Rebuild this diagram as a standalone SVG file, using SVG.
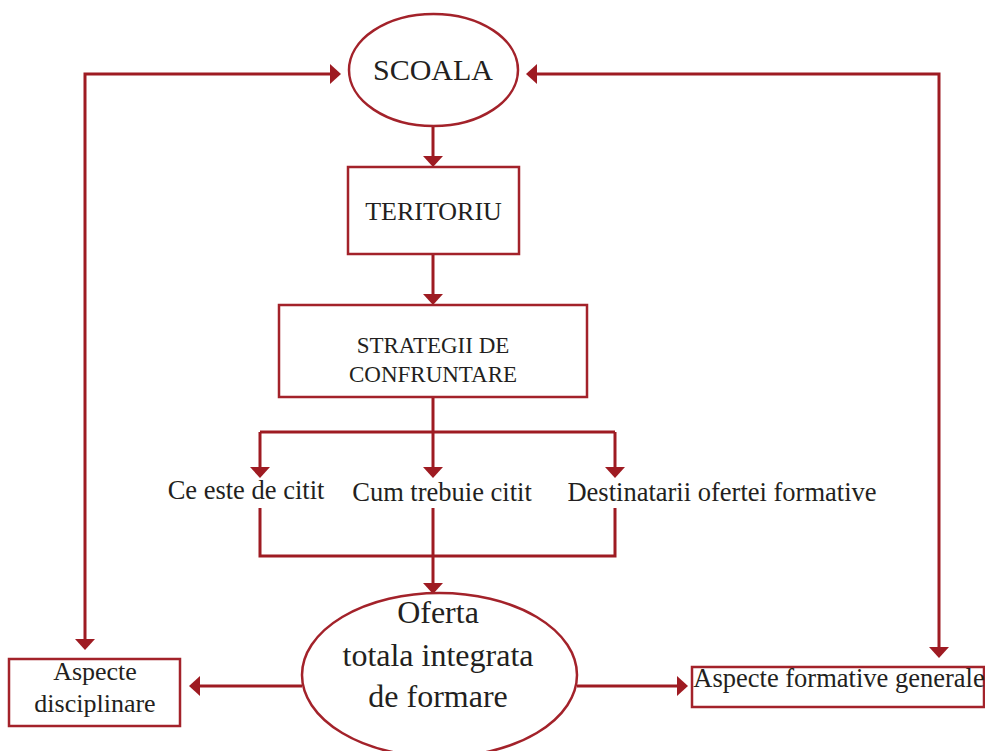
<svg xmlns="http://www.w3.org/2000/svg" width="985" height="751" viewBox="0 0 985 751">
<style>
.node{fill:#fff;stroke:#a3222a;stroke-width:2.5}
.t{font-family:"Liberation Serif","Times New Roman",serif;fill:#231f20;text-anchor:middle}
.c{fill:none;stroke:#9e1b22;stroke-width:3}
.ca{fill:none;stroke:#9e1b22;stroke-width:3;marker-end:url(#ah)}
.cb{fill:none;stroke:#9e1b22;stroke-width:3;marker-end:url(#ah);marker-start:url(#ah)}
</style>
<defs>
<marker id="ah" markerUnits="userSpaceOnUse" markerWidth="12" markerHeight="20" refX="0" refY="10" orient="auto-start-reverse" viewBox="0 0 12 20">
<path d="M0,0 L11,10 L0,20 z" fill="#9e1b22"/>
</marker>
</defs>
<g id="connectors">
<path class="cb" d="M85,639 V74 H330"/>
<path class="cb" d="M939,647 V74 H537"/>
<path class="ca" d="M433,126 V156"/>
<path class="ca" d="M433,254 V294"/>
<path class="c" d="M433,397 V432"/>
<path class="c" d="M260,432 H615"/>
<path class="ca" d="M260,432 V467"/>
<path class="ca" d="M433,432 V467"/>
<path class="ca" d="M615,432 V467"/>
<path class="c" d="M260,508 V556 H615 V508"/>
<path class="ca" d="M433,508 V583"/>
<path class="ca" d="M302,686 H200"/>
<path class="ca" d="M577,686 H677"/>
</g>
<g id="scoala">
<ellipse class="node" cx="433.5" cy="70" rx="84.5" ry="56"/>
<text class="t" x="433" y="80" font-size="30">SCOALA</text>
</g>
<g id="teritoriu">
<rect class="node" x="348" y="167" width="171" height="87"/>
<text class="t" x="433.5" y="220" font-size="26">TERITORIU</text>
</g>
<g id="strategii">
<rect class="node" x="279" y="305" width="308" height="92"/>
<text class="t" x="433" y="353" font-size="23">STRATEGII DE</text>
<text class="t" x="433" y="382" font-size="23">CONFRUNTARE</text>
</g>
<g id="ce-este">
<text class="t" x="246" y="499" font-size="26.5">Ce este de citit</text>
</g>
<g id="cum-trebuie">
<text class="t" x="442" y="501" font-size="26.5">Cum trebuie citit</text>
</g>
<g id="destinatarii">
<text class="t" x="722" y="501" font-size="26.5">Destinatarii ofertei formative</text>
</g>
<g id="oferta">
<ellipse class="node" cx="439.5" cy="675" rx="137.5" ry="82"/>
<text class="t" x="438" y="623" font-size="32">Oferta</text>
<text class="t" x="438" y="666" font-size="32">totala integrata</text>
<text class="t" x="438" y="707" font-size="32">de formare</text>
</g>
<g id="aspecte-disciplinare">
<rect class="node" x="9" y="659" width="171" height="67"/>
<text class="t" x="95" y="680" font-size="26">Aspecte</text>
<text class="t" x="95" y="712" font-size="26">disciplinare</text>
</g>
<g id="aspecte-formative">
<rect class="node" x="692" y="667" width="292" height="40"/>
<text class="t" x="839" y="687" font-size="26.5">Aspecte formative generale</text>
</g>
</svg>
